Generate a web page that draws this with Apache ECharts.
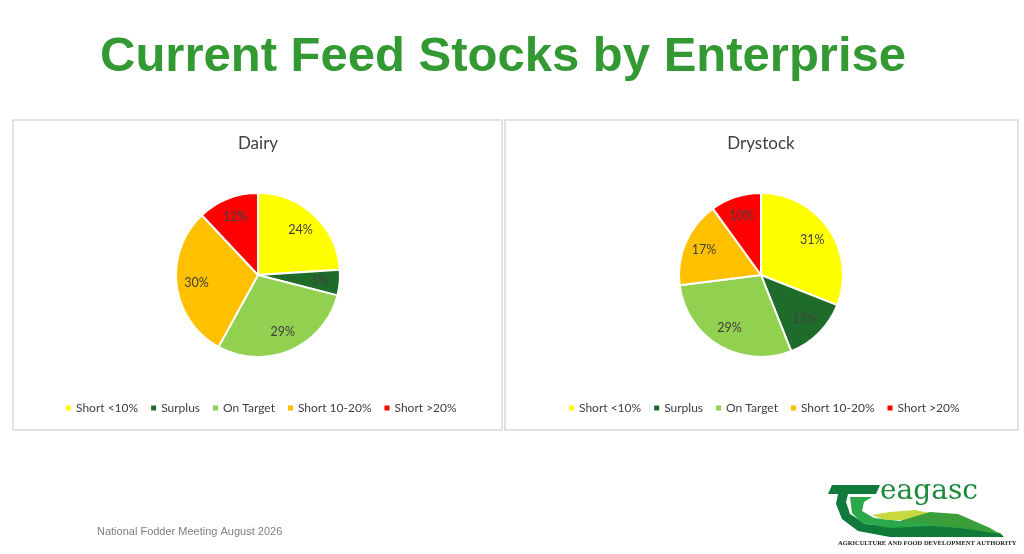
<!DOCTYPE html>
<html><head><meta charset="utf-8">
<script src="https://cdn.jsdelivr.net/npm/echarts@6/dist/echarts.min.js"></script>
<style>html,body{margin:0;padding:0;background:#fff}#c{width:1024px;height:554px}</style>
</head><body><div id="c"></div>
<script>
const categories = ['Short <10%', 'Surplus', 'On Target', 'Short 10-20%', 'Short >20%'];
const dairyValues = [24, 5, 29, 30, 12];
const drystockValues = [31, 13, 29, 17, 10];
const colors = ['#FFFF00', '#1E6B2A', '#92D050', '#FFC000', '#FF0000'];

const chart = echarts.init(document.getElementById('c'));
const font = 'Lato, sans-serif';
const R = 82;
function pieData(values) {
  return categories.map((c, i) => ({ name: c, value: values[i], itemStyle: { color: colors[i] } }));
}
function pieSeries(name, values, cx) {
  return {
    type: 'pie', name: name, center: [cx, 275], radius: R, startAngle: 90, clockwise: true,
    data: pieData(values),
    itemStyle: { borderColor: '#fff', borderWidth: 2 },
    label: { show: false }, labelLine: { show: false }, emphasis: { disabled: true }, animation: false
  };
}
function labelSeries(name, values, cx) {
  return {
    type: 'pie', name: name, center: [cx, 275], radius: [R * 0.44, R], startAngle: 90, clockwise: true,
    data: categories.map((c, i) => ({ name: c, value: values[i] })), legendHoverLink: false, silent: true,
    itemStyle: { color: 'rgba(0,0,0,0)', borderWidth: 0 },
    label: { show: true, position: 'inside', formatter: '{c}%', color: '#404040', fontSize: 12.5, fontFamily: font },
    labelLine: { show: false }, emphasis: { disabled: true }, animation: false, z: 3
  };
}
function legend(left) {
  return {
    data: categories, left: left, top: 397, orient: 'horizontal', icon: 'rect', itemWidth: 7, itemHeight: 7, itemGap: 11,
    textStyle: { color: '#404040', fontSize: 12, fontFamily: font, padding: [0, 0, 0, -1] }
  };
}
chart.setOption({
  animation: false,
  title: [
    { text: 'Current Feed Stocks by Enterprise', left: 503, top: 33, padding: 0, textAlign: 'center',
      textStyle: { color: '#339933', fontSize: 49, fontWeight: 'bold', fontFamily: 'Liberation Sans, Arial, sans-serif' } },
    { text: 'Dairy', left: 258, top: 135, padding: 0, textAlign: 'center', textStyle: { color: '#404040', fontSize: 17, fontWeight: 'normal', fontFamily: font } },
    { text: 'Drystock', left: 761, top: 135, padding: 0, textAlign: 'center', textStyle: { color: '#404040', fontSize: 17, fontWeight: 'normal', fontFamily: font } },
    { text: 'National Fodder Meeting August 2026', left: 97, top: 526, padding: 0, textStyle: { color: '#808080', fontSize: 11, fontWeight: 'normal', fontFamily: 'Liberation Sans, Arial, sans-serif' } }
  ],
  legend: [legend(59), legend(562)],
  series: [pieSeries('Dairy', dairyValues, 258), pieSeries('Drystock', drystockValues, 761),
           labelSeries('Dairy labels', dairyValues, 258), labelSeries('Drystock labels', drystockValues, 761)],
  graphic: [
    { type: 'rect', shape: { x: 13, y: 120, width: 489, height: 310 }, style: { fill: 'none', stroke: '#d9d9d9', lineWidth: 1.5 }, z: -1 },
    { type: 'rect', shape: { x: 505, y: 120, width: 513, height: 310 }, style: { fill: 'none', stroke: '#d9d9d9', lineWidth: 1.5 }, z: -1 },
    // logo
    { type: 'polygon', shape: { points: [[832,485],[880,485],[876,494],[848,494],[846,502],[850,514],[866,524],[900,527],[940,523],[1000,533],[1004,537],[890,537],[858,531],[842,519],[836,504],[838,494],[828,494]] }, style: { fill: '#0f7a3a' } },
    { type: 'polygon', shape: { points: [[850,497],[872,497],[864,502],[862,511],[874,518],[900,521],[935,515],[970,520],[990,530],[930,526],[890,528],[862,523],[852,513]] }, style: { fill: '#2aa84a' } },
    { type: 'polygon', shape: { points: [[872,515],[890,512],[915,510],[935,514],[912,520],[885,520]] }, style: { fill: '#c8d840' } },
    { type: 'polygon', shape: { points: [[900,521],[930,512],[958,514],[990,528],[1000,534],[960,528],[930,524]] }, style: { fill: '#3a9e3a' } },
    { type: 'text', left: 880, top: 478, style: { text: 'eagasc', fill: '#1b8a3c', fontSize: 28, fontFamily: 'DejaVu Serif, serif' } },
    { type: 'text', left: 838, top: 540, style: { text: 'AGRICULTURE AND FOOD DEVELOPMENT AUTHORITY', fill: '#222', fontSize: 6.5, fontWeight: 'bold', fontFamily: 'Liberation Serif, serif' } }
  ]
});
</script></body></html>
